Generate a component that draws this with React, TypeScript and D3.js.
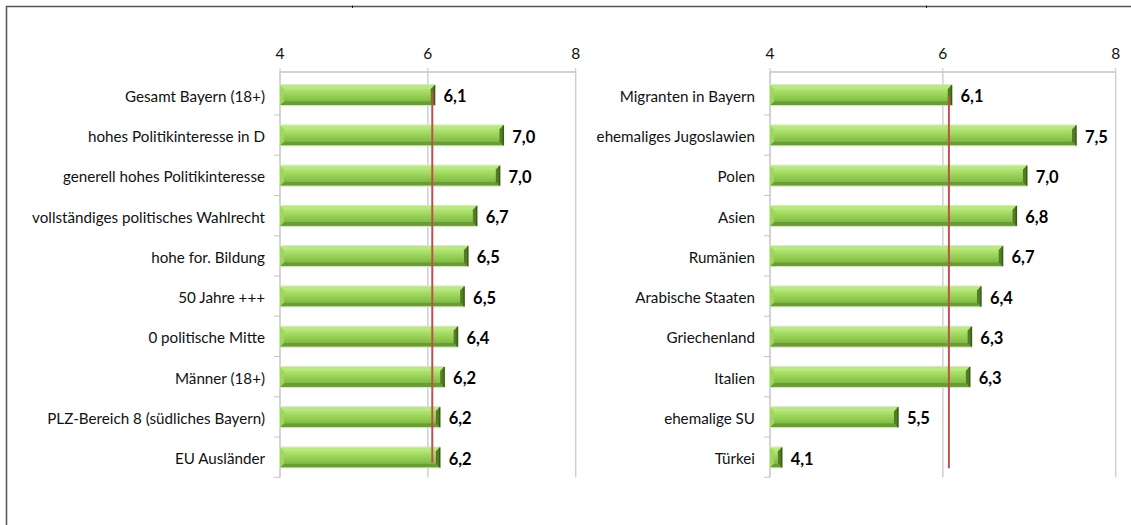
import React from 'react';
import * as d3 from 'd3';

const leftCategories = [
  'Gesamt Bayern (18+)',
  'hohes Politikinteresse in D',
  'generell hohes Politikinteresse',
  'vollständiges politisches Wahlrecht',
  'hohe for. Bildung',
  '50 Jahre +++',
  '0 politische Mitte',
  'Männer (18+)',
  'PLZ-Bereich 8 (südliches Bayern)',
  'EU Ausländer',
];
const leftValues = [6.09, 7.02, 6.97, 6.66, 6.54, 6.49, 6.4, 6.22, 6.16, 6.16];
const leftReference = 6.06;

const rightCategories = [
  'Migranten in Bayern',
  'ehemaliges Jugoslawien',
  'Polen',
  'Asien',
  'Rumänien',
  'Arabische Staaten',
  'Griechenland',
  'Italien',
  'ehemalige SU',
  'Türkei',
];
const rightValues = [6.1, 7.54, 6.97, 6.85, 6.69, 6.44, 6.33, 6.31, 5.48, 4.135];
const rightReference = 6.07;

const axisDomain = [4, 8];
const axisTicks = [4, 6, 8];

const FONT = 'Lato, "Open Sans", sans-serif';
const fmt = (v: number) => d3.format('.1f')(v).replace('.', ',');

type PanelProps = {
  id: string;
  categories: string[];
  values: number[];
  reference: number;
  xStart: number;
  xEnd: number;
  lineTop: number;
  lineBottom: number;
};

function Bar({ x0, x1, yc, id }: { x0: number; x1: number; yc: number; id: string }) {
  const h = 20;
  const y0 = yc - h / 2;
  const y1 = yc + h / 2;
  const w = x1 - x0;
  const b = Math.min(4, w / 2 - 0.5);
  const pts = (arr: number[][]) => arr.map((p) => p.join(',')).join(' ');
  return (
    <g>
      <rect x={x0} y={y0} width={w} height={h} fill={`url(#${id}-face)`} />
      <polygon points={pts([[x0, y0], [x1, y0], [x1 - b, y0 + b], [x0 + b, y0 + b]])} fill="#b9e781" />
      <polygon points={pts([[x0, y1], [x1, y1], [x1 - b, y1 - b], [x0 + b, y1 - b]])} fill="#6a9c36" />
      <polygon points={pts([[x0, y0], [x0 + b, y0 + b], [x0 + b, y1 - b], [x0, y1]])} fill="#9fd75c" />
      <polygon points={pts([[x1, y0], [x1 - b, y0 + b], [x1 - b, y1 - b], [x1, y1]])} fill="#527d26" />
      <rect x={x0 + b} y={y0 + b} width={Math.max(0, w - 2 * b)} height={h - 2 * b} fill={`url(#${id}-face)`} />
      <rect x={x0 - 0.5} y={y0 - 0.5} width={w + 1} height={h + 1} fill="none" stroke="#d3e8bb" strokeWidth={1} />
      <line x1={x1} x2={x1} y1={y0} y2={y1} stroke="#3b5c18" strokeWidth={1.5} />
    </g>
  );
}

function Panel({ id, categories, values, reference, xStart, xEnd, lineTop, lineBottom }: PanelProps) {
  const x = d3.scaleLinear().domain(axisDomain).range([xStart, xEnd]);
  const y = d3.scaleBand<string>().domain(categories).range([74.7, 477.3]).paddingInner(0).paddingOuter(0);
  const bw = y.bandwidth();
  const axisY = 72;
  const bottom = 477.3;
  const firstC = (y(categories[0]) as number) + bw / 2;
  const lastC = (y(categories[categories.length - 1]) as number) + bw / 2;
  return (
    <g>
      <defs>
        <linearGradient id={`${id}-face`} x1="0" y1="0" x2="0" y2="1">
          <stop offset="0" stopColor="#b2e374" />
          <stop offset="0.45" stopColor="#99d457" />
          <stop offset="1" stopColor="#82bb45" />
        </linearGradient>
      </defs>
      {axisTicks.slice(1).map((t) => (
        <line key={t} x1={x(t)} x2={x(t)} y1={axisY} y2={bottom} stroke="#d0d0d0" strokeWidth={1.5} />
      ))}
      <line x1={xStart} x2={xEnd} y1={axisY} y2={axisY} stroke="#c4c4c4" strokeWidth={1.5} />
      {axisTicks.map((t) => (
        <g key={t}>
          <line x1={x(t)} x2={x(t)} y1={axisY - 4} y2={axisY} stroke="#c4c4c4" strokeWidth={1} />
          <text x={x(t)} y={58.5} textAnchor="middle" fontFamily={FONT} fontSize={15.5} fill="#111">
            {t}
          </text>
        </g>
      ))}
      <line x1={xStart} x2={xStart} y1={axisY} y2={bottom} stroke="#c4c4c4" strokeWidth={1.5} />
      {categories.map((c) => (
        <line key={c} x1={xStart - 6} x2={xStart} y1={(y(c) as number) + bw} y2={(y(c) as number) + bw} stroke="#c4c4c4" strokeWidth={1} />
      ))}
      {categories.map((c) => (
        <text
          key={c}
          x={xStart - 15}
          y={(y(c) as number) + bw / 2 + 1}
          textAnchor="end"
          dominantBaseline="central"
          fontFamily={FONT}
          fontSize={15.2}
          fill="#111"
        >
          {c}
        </text>
      ))}
      {categories.map((c, i) => (
        <Bar key={c} id={id} x0={x(axisDomain[0])} x1={x(values[i])} yc={(y(c) as number) + bw / 2 + 0.3} />
      ))}
      {categories.map((c, i) => (
        <text
          key={c}
          x={x(values[i]) + 9}
          y={(y(c) as number) + bw / 2 + 1.5}
          dominantBaseline="central"
          fontFamily={FONT}
          fontWeight="bold"
          fontSize={16.5}
          fill="#000"
        >
          {fmt(values[i])}
        </text>
      ))}
      <line
        x1={x(reference)}
        x2={x(reference)}
        y1={firstC + lineTop}
        y2={lastC + lineBottom}
        stroke="#c0504d"
        strokeWidth={2}
      />
    </g>
  );
}

export default function App() {
  return (
    <svg
      width={1131}
      height={525}
      style={{ position: 'absolute', left: 0, top: 0, background: '#fff' }}
    >
      <rect x={0} y={0} width={1131} height={525} fill="#fff" />
      <rect x={6.5} y={6.5} width={1200} height={600} fill="none" stroke="#555" strokeWidth={1.5} />
      <line x1={352.5} x2={352.5} y1={5.5} y2={8} stroke="#111" strokeWidth={1} />
      <line x1={926.5} x2={926.5} y1={5.5} y2={8} stroke="#111" strokeWidth={1} />
      <Panel
        id="left"
        categories={leftCategories}
        values={leftValues}
        reference={leftReference}
        xStart={280}
        xEnd={575.7}
        lineTop={-3}
        lineBottom={5.5}
      />
      <Panel
        id="right"
        categories={rightCategories}
        values={rightValues}
        reference={rightReference}
        xStart={770}
        xEnd={1115.7}
        lineTop={2}
        lineBottom={11}
      />
    </svg>
  );
}
